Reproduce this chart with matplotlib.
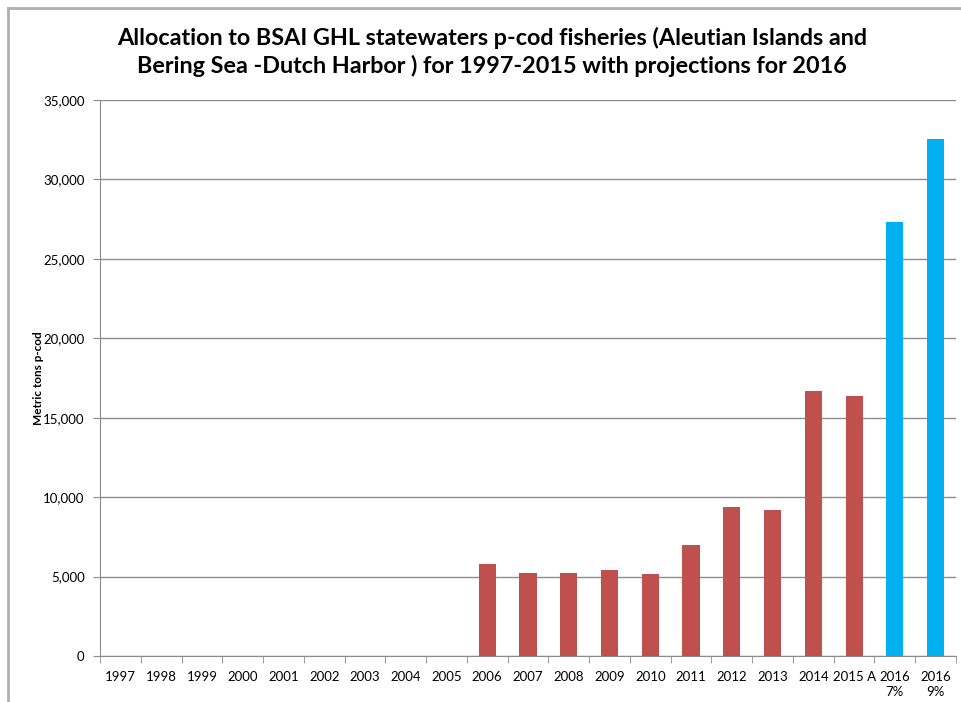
import matplotlib.pyplot as plt
from matplotlib.lines import Line2D
from matplotlib.ticker import FuncFormatter, MultipleLocator

plt.rcParams['font.family'] = ['Lato', 'DejaVu Sans']

etiquettes = ["1997", "1998", "1999", "2000", "2001", "2002", "2003", "2004", "2005",
              "2006", "2007", "2008", "2009", "2010", "2011", "2012", "2013", "2014",
              "2015 A", "2016\n7%", "2016\n9%"]
valeurs = [0, 0, 0, 0, 0, 0, 0, 0, 0,
           5800, 5250, 5250, 5440, 5190, 7000, 9410, 9220, 16710,
           16370, 27300, 32550]
couleurs = ["#c0504d"] * 19 + ["#00b0f0"] * 2

fig = plt.figure(figsize=(9.61, 7.02), dpi=100)
ax = fig.add_axes([100 / 961, 46 / 702, 856 / 961, 556 / 702])

x = list(range(len(etiquettes)))
ax.bar(x, valeurs, width=0.42, color=couleurs, zorder=3)

ax.set_xlim(-0.5, len(etiquettes) - 0.5)
ax.set_ylim(0, 35000)
ax.yaxis.set_major_locator(MultipleLocator(5000))
ax.yaxis.set_major_formatter(FuncFormatter(lambda v, p: f"{int(v):,}"))
ax.grid(axis="y", color="#8c8c8c", linewidth=1.0, zorder=0)

ax.set_xticks(x)
ax.set_xticklabels(etiquettes, fontsize=9.5, va="top", linespacing=1.3)
ax.set_xticks([i - 0.5 for i in range(len(etiquettes) + 1)], minor=True)
ax.tick_params(axis="x", which="major", length=0, pad=11)
ax.tick_params(axis="x", which="minor", length=5, color="#8c8c8c", direction="out")
ax.tick_params(axis="y", length=5, color="#8c8c8c", labelsize=9.5, pad=6)

for cote in ["top", "right"]:
    ax.spines[cote].set_visible(False)
for cote in ["left", "bottom"]:
    ax.spines[cote].set_color("#8c8c8c")

ax.set_ylabel("Metric tons p-cod", fontsize=8.5, fontweight="bold")
ax.yaxis.set_label_coords(-56 / 856, 0.5)

fig.suptitle("Allocation to BSAI GHL statewaters p-cod fisheries (Aleutian Islands and\n"
             "Bering Sea -Dutch Harbor ) for 1997-2015 with projections for 2016",
             x=492 / 961, y=1 - 27 / 702, fontsize=16.8, fontweight="bold", va="top",
             linespacing=1.3)

# cadre du graphique
fig.add_artist(Line2D([8 / 961, 8 / 961], [0, 1 - 8 / 702], color="#b0b0b0", linewidth=2))
fig.add_artist(Line2D([8 / 961, 1], [1 - 8 / 702, 1 - 8 / 702], color="#b0b0b0", linewidth=2))

fig.savefig("out.png", dpi=100)
